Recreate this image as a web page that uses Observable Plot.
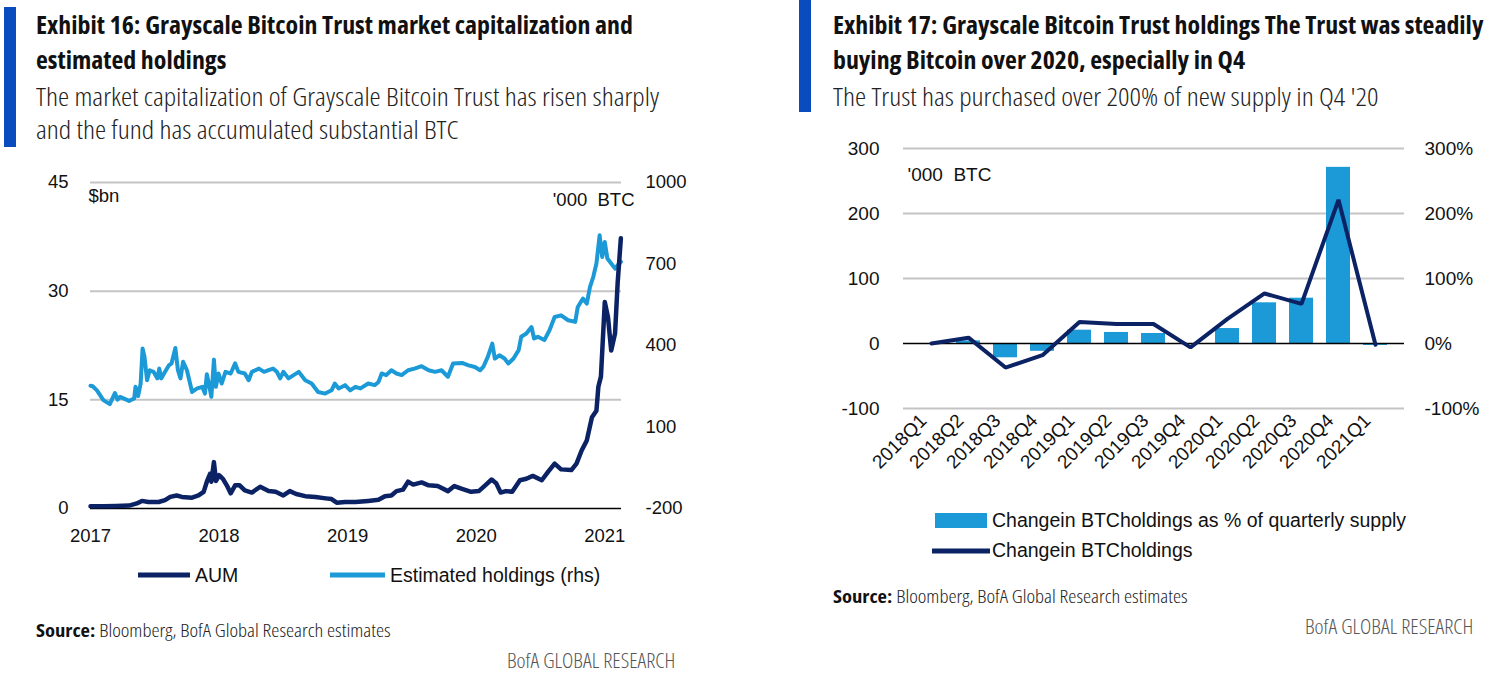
<!DOCTYPE html>
<html><head><meta charset="utf-8">
<script src="https://cdn.jsdelivr.net/npm/d3@7"></script>
<script src="https://cdn.jsdelivr.net/npm/@observablehq/plot@0.6"></script>
<style>
body{margin:0;width:1494px;height:678px;position:relative;background:#fff;overflow:hidden;font-family:"Liberation Sans",Arial,sans-serif;}
.abs{position:absolute;white-space:nowrap;transform-origin:0 50%;}
.vbar{position:absolute;background:#0a4bbf;width:12px;}
.title{font-family:"Open Sans";font-weight:700;font-stretch:75%;font-size:24px;line-height:30px;color:#111;transform:scaleX(1.077);}
.sub{font-family:"Open Sans";font-weight:300;font-stretch:75%;font-size:25.5px;line-height:30px;color:#222;transform:scaleX(1.106);}
.src{font-family:"Open Sans";font-weight:300;font-stretch:75%;font-size:18.5px;line-height:20px;color:#222;transform:scaleX(1.11);}
.src b{font-weight:700;color:#111;}
.bofa{font-family:"Open Sans";font-weight:300;font-stretch:75%;font-size:19.5px;line-height:20px;color:#555;transform:scaleX(1.1);}
.leg{font-family:"Liberation Sans",Arial,sans-serif;font-size:19.5px;line-height:24px;color:#111;}
.plot{position:absolute;}
</style></head>
<body>
<div class="vbar" style="left:4px;top:7px;height:140px"></div>
<div class="abs title" style="left:36px;top:10px">Exhibit 16: Grayscale Bitcoin Trust market capitalization and</div>
<div class="abs title" style="left:36px;top:45px">estimated holdings</div>
<div class="abs sub" style="left:36px;top:81px">The market capitalization of Grayscale Bitcoin Trust has risen sharply</div>
<div class="abs sub" style="left:36px;top:114px">and the fund has accumulated substantial BTC</div>

<div class="vbar" style="left:799px;top:0px;height:112px"></div>
<div class="abs title" style="left:833px;top:10px">Exhibit 17: Grayscale Bitcoin Trust holdings The Trust was steadily</div>
<div class="abs title" style="left:833px;top:45px">buying Bitcoin over 2020, especially in Q4</div>
<div class="abs sub" style="left:833px;top:81px">The Trust has purchased over 200% of new supply in Q4 '20</div>

<div id="left" class="plot" style="left:0px;top:160px"></div>
<div id="right" class="plot" style="left:780px;top:130px"></div>

<!-- left legend -->
<svg class="abs" style="left:130px;top:565px" width="70" height="20"><line x1="8" x2="60" y1="10" y2="10" stroke="#0b2265" stroke-width="5"/></svg>
<div class="abs leg" style="left:195px;top:563px">AUM</div>
<svg class="abs" style="left:322px;top:565px" width="70" height="20"><line x1="8" x2="63" y1="10" y2="10" stroke="#1b9ad7" stroke-width="5"/></svg>
<div class="abs leg" style="left:390px;top:563px">Estimated holdings (rhs)</div>

<!-- right legend -->
<div class="abs" style="left:935px;top:513px;width:52px;height:15px;background:#1b9ad7"></div>
<div class="abs leg" style="left:992px;top:508px">Changein BTCholdings as % of quarterly supply</div>
<svg class="abs" style="left:926px;top:541px" width="70" height="20"><line x1="6" x2="64" y1="10" y2="10" stroke="#0b2265" stroke-width="5"/></svg>
<div class="abs leg" style="left:992px;top:538px">Changein BTCholdings</div>

<div class="abs src" style="left:36px;top:620px"><b>Source:</b> Bloomberg, BofA Global Research estimates</div>
<div class="abs bofa" style="left:507px;top:651px">BofA GLOBAL RESEARCH</div>
<div class="abs src" style="left:833px;top:586px"><b>Source:</b> Bloomberg, BofA Global Research estimates</div>
<div class="abs bofa" style="left:1305px;top:617px">BofA GLOBAL RESEARCH</div>

<script>
// ---------- Exhibit 16 data ----------
const yearTicks = [2017, 2018, 2019, 2020, 2021];
const leftTicks = [0, 15, 30, 45];
const rightTicks = [-200, 100, 400, 700, 1000];

// AUM, $bn (time in decimal years)
const aumT = [2017.0, 2017.1, 2017.2, 2017.3, 2017.36, 2017.40, 2017.45, 2017.53, 2017.58, 2017.62,
  2017.67, 2017.71, 2017.79, 2017.84, 2017.88, 2017.905, 2017.93, 2017.94, 2017.96, 2017.976,
  2018.0, 2018.03, 2018.06, 2018.09, 2018.125, 2018.16, 2018.20, 2018.255, 2018.32, 2018.385,
  2018.44, 2018.50, 2018.55, 2018.60, 2018.67, 2018.75, 2018.83, 2018.875, 2018.915, 2018.98,
  2019.06, 2019.16, 2019.24, 2019.29, 2019.34, 2019.38, 2019.43, 2019.47, 2019.51, 2019.575,
  2019.63, 2019.70, 2019.78, 2019.83, 2019.89, 2019.96, 2020.02, 2020.07, 2020.12, 2020.155,
  2020.19, 2020.23, 2020.28, 2020.34, 2020.39, 2020.44, 2020.51, 2020.56, 2020.61, 2020.66,
  2020.74, 2020.78, 2020.82, 2020.86, 2020.90, 2020.935, 2020.95, 2020.97, 2021.00, 2021.025,
  2021.05, 2021.08, 2021.10, 2021.125];
const aumV = [0.3, 0.3, 0.35, 0.4, 0.7, 1.05, 0.9, 0.9, 1.15, 1.6,
  1.8, 1.6, 1.5, 1.8, 2.3, 3.7, 4.8, 3.7, 6.4, 3.8,
  4.6, 4.1, 3.2, 2.1, 3.2, 3.2, 2.5, 2.2, 3.0, 2.4,
  2.3, 1.8, 2.4, 2.0, 1.7, 1.6, 1.4, 1.3, 0.8, 0.9,
  0.9, 1.05, 1.2, 1.7, 1.8, 2.4, 2.6, 3.7, 3.3, 3.6,
  3.2, 3.1, 2.4, 3.1, 2.7, 2.3, 2.4, 3.2, 4.0, 3.5,
  2.2, 2.4, 2.3, 3.9, 4.1, 4.5, 3.9, 5.1, 6.2, 5.4,
  5.3, 6.2, 8.0, 9.4, 12.6, 13.5, 16.8, 18.2, 28.5, 26.4,
  21.8, 24.2, 31.1, 37.3];

// Estimated holdings, '000 BTC (rhs)
const holdT = [2017.0, 2017.017, 2017.05, 2017.10, 2017.15, 2017.19, 2017.21, 2017.23, 2017.30, 2017.34,
  2017.35, 2017.37, 2017.39, 2017.405, 2017.42, 2017.44, 2017.46, 2017.49, 2017.52, 2017.535,
  2017.55, 2017.58, 2017.61, 2017.63, 2017.66, 2017.68, 2017.70, 2017.72, 2017.75, 2017.79,
  2017.83, 2017.87, 2017.89, 2017.905, 2017.92, 2017.94, 2017.96, 2017.975, 2017.996, 2018.02,
  2018.05, 2018.09, 2018.125, 2018.15, 2018.20, 2018.23, 2018.255, 2018.31, 2018.35, 2018.385,
  2018.42, 2018.45, 2018.475, 2018.50, 2018.54, 2018.58, 2018.62, 2018.67, 2018.72, 2018.77,
  2018.825, 2018.875, 2018.90, 2018.93, 2018.98, 2019.02, 2019.06, 2019.10, 2019.16, 2019.21,
  2019.24, 2019.265, 2019.30, 2019.34, 2019.38, 2019.42, 2019.47, 2019.52, 2019.575, 2019.63,
  2019.68, 2019.73, 2019.78, 2019.82, 2019.89, 2019.94, 2019.99, 2020.03, 2020.055, 2020.09,
  2020.125, 2020.145, 2020.18, 2020.22, 2020.25, 2020.29, 2020.33, 2020.35, 2020.39, 2020.43,
  2020.45, 2020.48, 2020.53, 2020.57, 2020.61, 2020.66, 2020.715, 2020.77, 2020.79, 2020.83,
  2020.86, 2020.885, 2020.91, 2020.935, 2020.96, 2020.98, 2021.00, 2021.02, 2021.05, 2021.08,
  2021.10, 2021.125];
const holdV = [252, 250, 235, 199, 184, 225, 201, 211, 196, 205,
  248, 214, 260, 389, 358, 272, 309, 303, 279, 315,
  279, 303, 327, 334, 391, 309, 279, 340, 309, 229,
  242, 248, 223, 294, 260, 211, 348, 248, 297, 260,
  303, 297, 334, 303, 297, 272, 303, 315, 303, 309,
  315, 303, 279, 303, 279, 291, 303, 272, 260, 229,
  223, 235, 260, 242, 254, 235, 248, 242, 260, 254,
  266, 297, 291, 309, 297, 291, 309, 315, 324, 309,
  303, 309, 285, 334, 336, 327, 321, 309, 321, 358,
  407, 352, 364, 352, 334, 352, 383, 432, 444, 468,
  426, 432, 420, 456, 505, 511, 493, 487, 542, 573,
  554, 616, 652, 702, 806, 726, 781, 720, 702, 683,
  695, 708];

// ---------- Exhibit 17 data ----------
const quarters = ["2018Q1","2018Q2","2018Q3","2018Q4","2019Q1","2019Q2","2019Q3","2019Q4","2020Q1","2020Q2","2020Q3","2020Q4","2021Q1"];
const pctSupply = [0, 4, -22, -12, 20.5, 17, 15.4, -1, 23, 62.6, 69.7, 271, -3];   // % of quarterly supply (rhs)
const changeBTC = [0, 9, -37, -18, 33, 30, 30, -6, 38, 77, 61, 221, -2];          // '000 BTC (lhs)
const rTicks = [-100, 0, 100, 200, 300];

const NAVY = "#0b2265", LIGHT = "#1b9ad7", GRID = "#c4c4c4";

// dual axis mapping for Exhibit 16: rhs [-200,1000] onto lhs [0,45]
const toLeft = h => (h + 200) * 45 / 1200;
const fromLeft = v => String(Math.round(v * 1200 / 45 - 200));

const aum = aumT.map((t, i) => ({t, v: aumV[i]}));
const hold = holdT.map((t, i) => ({t, v: toLeft(holdV[i])}));

const left = Plot.plot({
  width: 700, height: 400,
  marginLeft: 90, marginRight: 79, marginTop: 22, marginBottom: 52,
  x: {domain: [2017, 2021.13]},
  y: {domain: [0, 45]},
  style: {fontSize: "18.5px", fontFamily: "'Liberation Sans', Arial, sans-serif", color: "#111", background: "transparent"},
  marks: [
    Plot.ruleY([15, 30, 45], {stroke: GRID, strokeWidth: 2}),
    Plot.ruleY([0], {stroke: "#000", strokeWidth: 1.5}),
    Plot.line(hold, {x: "t", y: "v", stroke: LIGHT, strokeWidth: 4, strokeLinejoin: "round"}),
    Plot.line(aum, {x: "t", y: "v", stroke: NAVY, strokeWidth: 4.5, strokeLinejoin: "round"}),
    Plot.axisX({ticks: yearTicks, tickFormat: d => String(d), tickSize: 0, tickPadding: 20, label: null}),
    Plot.axisY({ticks: leftTicks, tickFormat: d => String(d), tickSize: 0, tickPadding: 22, label: null}),
    Plot.axisY({anchor: "right", ticks: rightTicks.map(toLeft), tickFormat: fromLeft, tickSize: 0, tickPadding: 24, label: null}),
    Plot.text(["$bn"], {frameAnchor: "top-left", dx: -2, dy: 6, textAnchor: "start"}),
    Plot.text(["'000  BTC"], {frameAnchor: "top-right", dx: 13, dy: 10, textAnchor: "end"})
  ]
});
document.getElementById("left").appendChild(left);

const right = Plot.plot({
  width: 714, height: 368,
  marginLeft: 123, marginRight: 90, marginTop: 18, marginBottom: 90,
  x: {domain: quarters, padding: 0.35},
  y: {domain: [-100, 300]},
  style: {fontSize: "19px", fontFamily: "'Liberation Sans', Arial, sans-serif", color: "#111", background: "transparent"},
  marks: [
    Plot.ruleY([-100, 100, 200, 300], {stroke: GRID, strokeWidth: 2}),
    Plot.barY(quarters, {x: q => q, y: (q, i) => pctSupply[i], fill: LIGHT}),
    Plot.ruleY([0], {stroke: "#000", strokeWidth: 1.5}),
    Plot.line(quarters, {x: q => q, y: (q, i) => changeBTC[i], stroke: NAVY, strokeWidth: 4, strokeLinejoin: "miter"}),
    Plot.axisX({tickRotate: -45, tickSize: 0, tickPadding: 9, dx: -8, dy: 0, label: null}),
    Plot.axisY({ticks: rTicks, tickFormat: d => String(d), tickSize: 0, tickPadding: 24, label: null}),
    Plot.axisY({anchor: "right", ticks: rTicks, tickFormat: d => d + "%", tickSize: 0, tickPadding: 20, label: null}),
    Plot.text(["'000  BTC"], {frameAnchor: "top-left", dx: 4, dy: 19, textAnchor: "start"})
  ]
});
document.getElementById("right").appendChild(right);
</script>
</body></html>
